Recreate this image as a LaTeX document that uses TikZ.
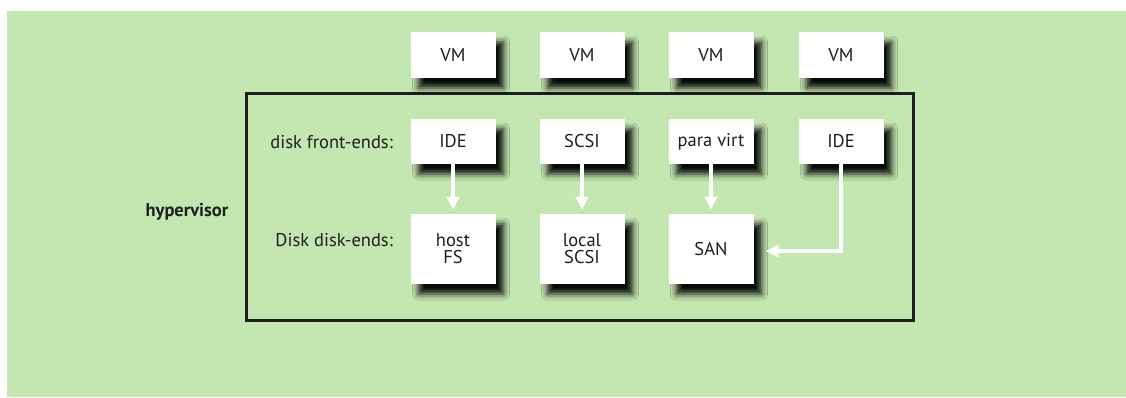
\documentclass[tikz,border=0pt]{standalone}
\usepackage{fontspec}
\setmainfont{PT Sans}
\usetikzlibrary{arrows.meta,shadows.blur}
\definecolor{bggreen}{HTML}{C4E6B1}
\definecolor{ink}{HTML}{1E1E1E}
\newcommand{\labelfont}{\fontsize{18.5}{20}\selectfont}
\tikzset{
  box/.style={fill=white, draw=none, minimum width=85pt, text=ink,
    font=\labelfont, align=center, inner sep=0pt,
    blur shadow={shadow xshift=8pt, shadow yshift=-10pt, shadow blur radius=6pt, shadow opacity=95}},
  vmbox/.style={box, minimum height=46pt},
  febox/.style={box, minimum height=45pt},
  bebox/.style={box, minimum height=70pt},
  rowlabel/.style={anchor=east, text=ink, font=\labelfont, inner sep=0pt},
  warrow/.style={draw=white, line width=3.5pt, line join=miter,
    -{Triangle[width=12pt,length=13pt]}},
}
\begin{document}
\begin{tikzpicture}[x=1pt,y=-1pt]
  \useasboundingbox (0,0) rectangle (1126,397);
  \fill[white] (0,0) rectangle (1126,397);
  \fill[bggreen] (7,11) rectangle (1126,397);

  % hypervisor frame
  \draw[ink, line width=3pt] (246,93) rectangle (913,320);
  \node[text=ink, font=\bfseries\labelfont, inner sep=0pt] (hv) at (187,212) {hypervisor};

  % virtual machines
  \node[vmbox] (vm1) at (453,55) {VM};
  \node[vmbox] (vm2) at (582,55) {VM};
  \node[vmbox] (vm3) at (711,55) {VM};
  \node[vmbox] (vm4) at (841,55) {VM};

  % row labels
  \node[rowlabel] (lfe) at (393,142) {disk front-ends:};
  \node[rowlabel] (lbe) at (393,240) {Disk disk-ends:};

  % disk front-ends
  \node[febox] (ide1) at (453,141.5) {IDE};
  \node[febox] (scsi) at (582,141.5) {SCSI};
  \node[febox] (pv)   at (711,141.5) {para virt};
  \node[febox] (ide2) at (841,141.5) {IDE};

  % disk back-ends
  \node[bebox] (hostfs) at (453,249) {host\\[-3pt]FS};
  \node[bebox] (lscsi)  at (582,249) {local\\[-3pt]SCSI};
  \node[bebox] (san)    at (711,249) {SAN};

  % connections
  \draw[warrow, shorten >=4pt] (ide1.south) -- (hostfs.north);
  \draw[warrow, shorten >=4pt] (scsi.south) -- (lscsi.north);
  \draw[warrow, shorten >=4pt] (pv.south) -- (san.north);
  \coordinate (sanin) at ([xshift=12pt,yshift=-2pt]san.east);
  \draw[warrow] (ide2.south) |- (sanin);
\end{tikzpicture}
\end{document}
